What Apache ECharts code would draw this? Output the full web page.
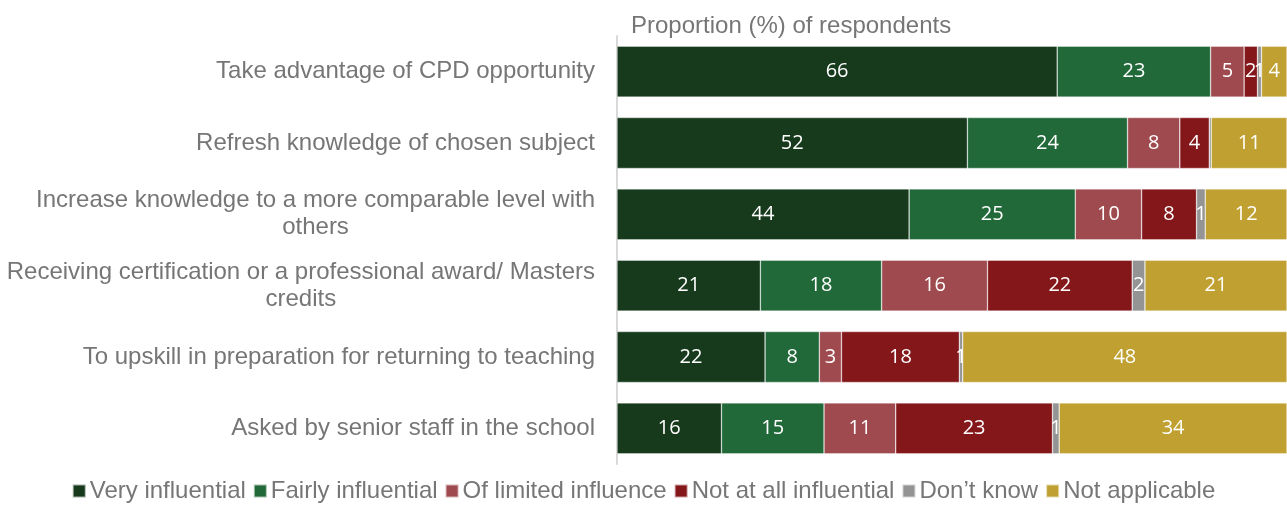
<!DOCTYPE html>
<html>
<head>
<meta charset="utf-8">
<script src="https://cdn.jsdelivr.net/npm/echarts@6/dist/echarts.min.js"></script>
<style>html,body{margin:0;padding:0;background:#fff}#c{width:1287px;height:505px}</style>
</head>
<body>
<div id="c"></div>
<script>
const categories = [
  "Take advantage of CPD opportunity",
  "Refresh knowledge of chosen subject",
  "Increase knowledge to a more comparable level with\nothers",
  "Receiving certification or a professional award/ Masters\ncredits",
  "To upskill in preparation for returning to teaching",
  "Asked by senior staff in the school"
];
const seriesNames = ["Very influential","Fairly influential","Of limited influence","Not at all influential","Don\u2019t know","Not applicable"];
const veryInfluential   = [65.7, 52.3, 43.6, 21.4, 22.1, 15.6];
const fairlyInfluential = [22.9, 23.9, 24.8, 18.1,  8.1, 15.3];
const limitedInfluence  = [ 5.0,  7.8,  9.9, 15.8,  3.3, 10.7];
const notAtAll          = [ 2.0,  4.4,  8.2, 21.6, 17.6, 23.4];
const dontKnow          = [ 0.6,  0.3,  1.3,  1.9,  0.5,  1.0];
const notApplicable     = [ 3.8, 11.3, 12.2, 21.2, 48.4, 34.0];
const colors = ["#173A1D","#216939","#9F4A4E","#84171A","#949494","#BFA030"];
const valueSets = [veryInfluential, fairlyInfluential, limitedInfluence, notAtAll, dontKnow, notApplicable];

const FONT = "'Liberation Sans',Arial,sans-serif";
const chart = echarts.init(document.getElementById('c'), null, {renderer:'canvas'});
const series = seriesNames.map((n,i)=>({
  name:n, type:'bar', stack:'total', data:valueSets[i], barWidth:51,
  itemStyle:{color:colors[i], borderColor:'rgba(255,255,255,0.6)', borderWidth:0.6},
  label:{show:true, position:'inside', color:'#fff', fontSize:20,
    fontFamily:"'Open Sans',sans-serif",
    formatter:p=>{const r=Math.round(p.value);return r===0?'':String(r);}},
  emphasis:{disabled:true}
}));
chart.setOption({
  animation:false,
  color:colors,
  title:{text:'Proportion (%) of respondents', left:626, top:9,
    textStyle:{fontSize:24, fontWeight:'normal', color:'#767676', fontFamily:FONT}},
  grid:{left:617, right:0, top:36, bottom:41, containLabel:false},
  xAxis:{type:'value', min:0, max:100, show:false},
  yAxis:{type:'category', data:categories, inverse:true,
    axisLine:{show:true, lineStyle:{color:'#d9d9d9', width:2}},
    axisTick:{show:false},
    axisLabel:{margin:22, color:'#767676', fontSize:24, fontFamily:FONT,
      lineHeight:27,
      formatter:v=>v.split('\n').map(l=>'{a|'+l+'}').join('\n'),
      rich:{a:{align:'center', fontSize:24, color:'#767676', lineHeight:27, fontFamily:FONT}}}
  },
  legend:{data:seriesNames, bottom:-3, left:'center', icon:'rect', itemWidth:13, itemHeight:13, itemGap:7,
    textStyle:{fontSize:24, color:'#767676', fontFamily:FONT, padding:[0,0,0,-1]}},
  series:series
});
</script>
</body>
</html>
